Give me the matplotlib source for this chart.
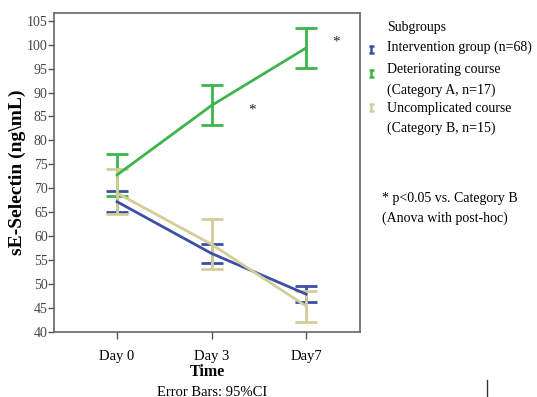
import matplotlib.pyplot as plt

plt.rcParams['font.family'] = ['Liberation Serif', 'DejaVu Serif']

days = ['Day 0', 'Day 3', 'Day7']

# means and 95% CI bounds
interv_mean = [67.2, 56.4, 47.9]
interv_lo = [65.1, 54.5, 46.3]
interv_hi = [69.4, 58.3, 49.5]

deter_mean = [72.8, 87.3, 99.3]
deter_lo = [68.4, 83.2, 95.1]
deter_hi = [77.2, 91.5, 103.5]

uncomp_mean = [69.0, 58.3, 45.4]
uncomp_lo = [64.7, 53.1, 42.1]
uncomp_hi = [74.0, 63.6, 48.6]

star_x = [1.43, 2.32]
star_y = [86.3, 100.6]

c_blue = '#3a4fa6'
c_green = '#3db54b'
c_tan = '#d3cd98'

W, H = 537, 397
fig = plt.figure(figsize=(W / 100, H / 100), dpi=100)
ax = fig.add_axes([54 / W, 1 - 332 / H, (360 - 54) / W, (332 - 13) / H])

x = list(range(len(days)))
series = [
    (interv_mean, interv_lo, interv_hi, c_blue),
    (deter_mean, deter_lo, deter_hi, c_green),
    (uncomp_mean, uncomp_lo, uncomp_hi, c_tan),
]
for mean, lo, hi, col in series:
    yerr = [[m - l for m, l in zip(mean, lo)], [h - m for m, h in zip(mean, hi)]]
    ax.errorbar(x, mean, yerr=yerr, color=col, lw=2, elinewidth=2,
                capsize=8, capthick=2)

for sx, sy in zip(star_x, star_y):
    ax.text(sx, sy, '*', fontsize=11, ha='center', va='center', color='#222222')

ax.set_xlim(-0.667, 2.57)
ax.set_ylim(40, 106.6)
ax.set_yticks(range(40, 106, 5))
ax.set_xticks(x)
ax.set_xticklabels(days, fontsize=10.5)
ax.tick_params(axis='y', labelsize=10, labelcolor='#444444', length=4, width=1,
               color='#555555', pad=0.5)
ax.tick_params(axis='x', length=5, width=1, color='#555555', pad=8)
for s in ax.spines.values():
    s.set_color('#666666')
    s.set_linewidth(1.2)

ax.set_ylabel('sE-Selectin (ng\\mL)', fontsize=14, fontweight='bold', labelpad=1)
ax.set_xlabel('Time', fontsize=11.5, fontweight='bold', labelpad=1)
fig.text(212 / W, 1 - 392 / H, 'Error Bars: 95%CI', fontsize=10.5,
         ha='center', va='center')

# legend drawn by hand
fs = 10
fig.text(387 / W, 1 - 27 / H, 'Subgroups', fontsize=fs, va='center')
legend_rows = [
    ('Intervention group (n=68)', 47, c_blue, 49),
    ('Deteriorating course', 70, c_green, 73),
    ('(Category A, n=17)', 90, None, 0),
    ('Uncomplicated course', 108, c_tan, 107),
    ('(Category B, n=15)', 128, None, 0),
]
for label, ty, col, iy in legend_rows:
    fig.text(387 / W, 1 - ty / H, label, fontsize=fs, va='center')
    if col:
        ix = 371
        kw = dict(color=col, lw=1.8, solid_capstyle='butt')
        fig.add_artist(plt.Line2D([ix / W, ix / W], [1 - (iy - 3.5) / H, 1 - (iy + 3.5) / H], **kw))
        fig.add_artist(plt.Line2D([(ix - 2.5) / W, (ix + 2.5) / W], [1 - (iy - 3.5) / H] * 2, **kw))
        fig.add_artist(plt.Line2D([(ix - 2.5) / W, (ix + 2.5) / W], [1 - (iy + 3.5) / H] * 2, **kw))

fig.text(382 / W, 1 - 198 / H, '* p<0.05 vs. Category B', fontsize=fs, va='center')
fig.text(382 / W, 1 - 218 / H, '(Anova with post-hoc)', fontsize=fs, va='center')

fig.add_artist(plt.Line2D([487 / W, 487 / W], [0, 17 / H], color='#333333', lw=1))

fig.savefig('out.png', dpi=100)
